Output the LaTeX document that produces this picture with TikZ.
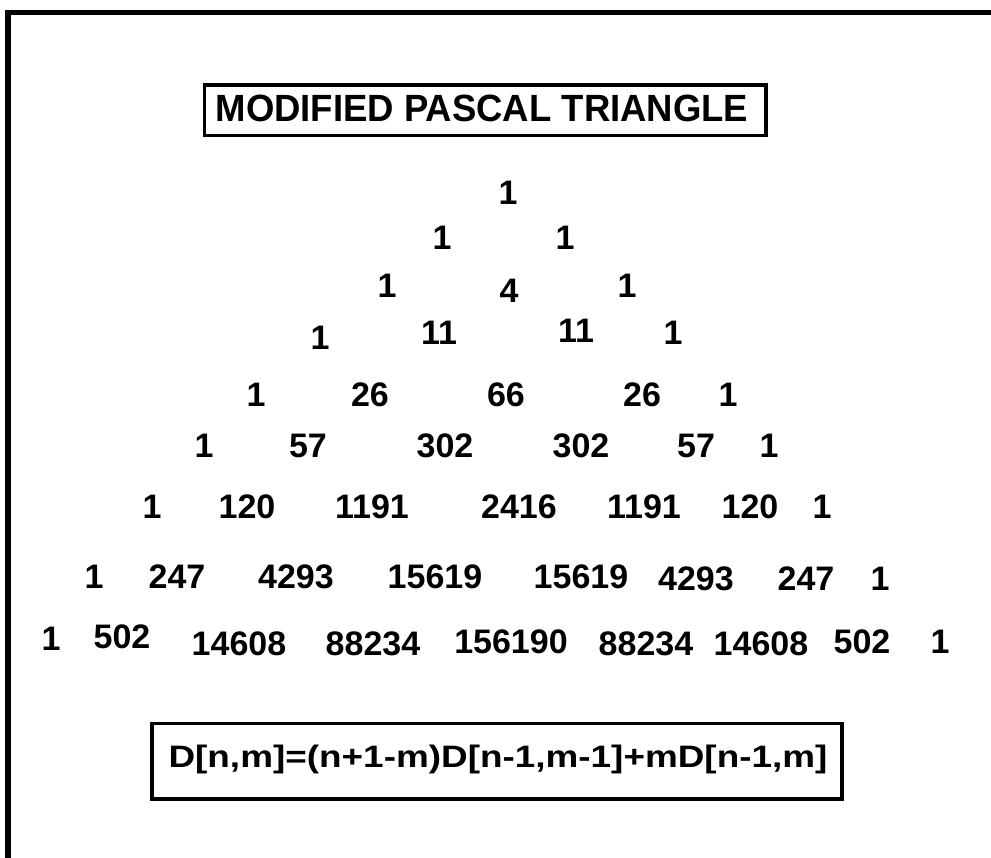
\documentclass[tikz,border=0pt]{standalone}
\usepackage{fontspec}
\setmainfont{Liberation Sans}
\begin{document}
\begin{tikzpicture}[x=1pt,y=-1pt,
  num/.style={anchor=base,inner sep=0pt,font=\bfseries\fontsize{34}{38}\selectfont},
  boxline/.style={draw=black,line width=3.5pt}]
\useasboundingbox (0,0) rectangle (991,858);
\fill[white] (0,0) rectangle (991,858);
% outer frame (only top and left visible)
\coordinate (fbl) at (8,858);
\coordinate (ftl) at (8,12.5);
\coordinate (ftr) at (991,12.5);
\draw[line width=5.5pt] (fbl) -- (ftl) -- (ftr);
% title
\draw[boxline] (204.5,85) rectangle (766,135.5);
\node[anchor=base,inner sep=0pt,font=\bfseries\fontsize{36.5}{40}\selectfont] (title) at (482,122) {\scalebox{1}[1.04]{MODIFIED PASCAL TRIANGLE}};
% rows
\node[num] (a1) at (508,205) {1};
\node[num] (b1) at (442,250) {1};
\node[num] (b2) at (565,250) {1};
\node[num] (c1) at (387,298) {1};
\node[num] (c2) at (509,303) {4};
\node[num] (c3) at (627,298) {1};
\node[num] (d1) at (320,350) {1};
\node[num] (d2) at (439,345) {11};
\node[num] (d3) at (576,343) {11};
\node[num] (d4) at (673,345) {1};
\node[num] (e1) at (256,407) {1};
\node[num] (e2) at (370,407) {26};
\node[num] (e3) at (506,407) {66};
\node[num] (e4) at (642,407) {26};
\node[num] (e5) at (728,407) {1};
\node[num] (f1) at (204,458) {1};
\node[num] (f2) at (308,458) {57};
\node[num] (f3) at (445,458) {302};
\node[num] (f4) at (581,458) {302};
\node[num] (f5) at (696,458) {57};
\node[num] (f6) at (769,458) {1};
\node[num] (g1) at (152,518) {1};
\node[num] (g2) at (247,518) {120};
\node[num] (g3) at (372,518) {1191};
\node[num] (g4) at (519,518) {2416};
\node[num] (g5) at (644,518) {1191};
\node[num] (g6) at (750,518) {120};
\node[num] (g7) at (822,518) {1};
\node[num] (h1) at (94,588) {1};
\node[num] (h2) at (177,588) {247};
\node[num] (h3) at (296,588) {4293};
\node[num] (h4) at (435,588) {15619};
\node[num] (h5) at (581,588) {15619};
\node[num] (h6) at (696,590) {4293};
\node[num] (h7) at (806,590) {247};
\node[num] (h8) at (880,590) {1};
\node[num] (i1) at (51,650) {1};
\node[num] (i2) at (122,648) {502};
\node[num] (i3) at (239,655) {14608};
\node[num] (i4) at (373,655) {88234};
\node[num] (i5) at (511,653) {156190};
\node[num] (i6) at (646,655) {88234};
\node[num] (i7) at (761,655) {14608};
\node[num] (i8) at (862,653) {502};
\node[num] (i9) at (940,653) {1};
% formula
\draw[boxline] (152,723.5) rectangle (842,799);
\node[anchor=base,inner sep=0pt,font=\bfseries\fontsize{31}{36}\selectfont] (formula) at (498,767) {\scalebox{1.19}[1]{D[n,m]=(n+1-m)D[n-1,m-1]+mD[n-1,m]}};
\end{tikzpicture}
\end{document}
